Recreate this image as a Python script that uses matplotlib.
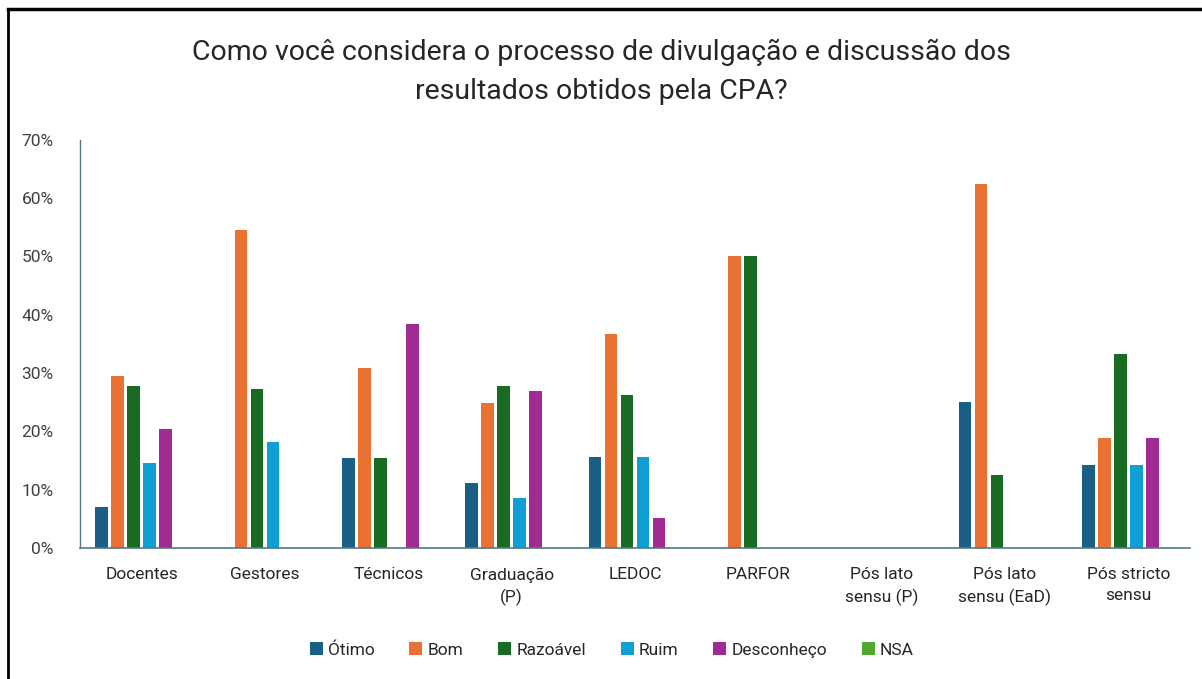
import numpy as np
import matplotlib
matplotlib.use('Agg')
import matplotlib.pyplot as plt
from matplotlib import font_manager
from matplotlib.lines import Line2D
from matplotlib.ticker import FuncFormatter

categories = ['Docentes', 'Gestores', 'Técnicos', 'Graduação\n(P)', 'LEDOC', 'PARFOR',
              'Pós lato\nsensu (P)', 'Pós lato\nsensu (EaD)', 'Pós stricto\nsensu']
series = ['Ótimo', 'Bom', 'Razoável', 'Ruim', 'Desconheço', 'NSA']

otimo = [0.071, 0.0, 0.154, 0.111, 0.156, 0.0, 0.0, 0.25, 0.143]
bom = [0.295, 0.545, 0.308, 0.248, 0.367, 0.50, 0.0, 0.625, 0.188]
razoavel = [0.278, 0.272, 0.154, 0.278, 0.262, 0.50, 0.0, 0.125, 0.333]
ruim = [0.146, 0.181, 0.0, 0.086, 0.156, 0.0, 0.0, 0.0, 0.143]
desconheco = [0.204, 0.0, 0.384, 0.270, 0.052, 0.0, 0.0, 0.0, 0.188]
nsa = [0.0, 0.0, 0.0, 0.0, 0.0, 0.0, 0.0, 0.0, 0.0]

colors = ['#1a5f85', '#e97132', '#196b24', '#0f9ed5', '#a02b93', '#4ea72e']


def pick_font(names):
    for n in names:
        try:
            font_manager.findfont(n, fallback_to_default=False)
            return n
        except Exception:
            pass
    return 'DejaVu Sans'


body_font = pick_font(['Roboto', 'Liberation Sans'])
plt.rcParams['font.family'] = [body_font, 'DejaVu Sans']

fig = plt.figure(figsize=(12.02, 6.79), dpi=100)
ax = fig.add_axes([0.0666, 0.193, 0.9234, 0.601])

values = [otimo, bom, razoavel, ruim, desconheco, nsa]
x = np.arange(len(categories))
step = 0.13
width = 0.103
for j, (name, vals) in enumerate(zip(series, values)):
    ax.bar(x + (j - 2.5) * step, vals, width, color=colors[j], label=name)

ax.set_xlim(-0.5, len(categories) - 0.5)
ax.set_ylim(0, 0.7)
ax.set_yticks(np.arange(0, 0.71, 0.1))
ax.yaxis.set_major_formatter(FuncFormatter(lambda v, p: f'{v*100:.0f}%'))
ax.set_xticks(x)
ax.set_xticklabels(categories, fontsize=12.5, color='#262626', linespacing=1.45)
ax.tick_params(axis='y', length=0, pad=19, labelsize=12.5, labelcolor='#404040')
ax.tick_params(axis='x', length=0, pad=14)

for s in ['top', 'right']:
    ax.spines[s].set_visible(False)
ax.spines['left'].set_color('#4f7a86')
ax.spines['bottom'].set_color('#4f7a86')
ax.spines['left'].set_linewidth(1.0)
ax.spines['bottom'].set_linewidth(1.2)

fig.text(0.5, 1 - 72 / 679, 'Como você considera o processo de divulgação e discussão dos\nresultados obtidos pela CPA?',
         ha='center', va='center', fontsize=20.5, color='#262626', linespacing=1.55)

fig.legend(*ax.get_legend_handles_labels(), loc='center', bbox_to_anchor=(0.509, 1 - 650 / 679),
           ncol=6, frameon=False, fontsize=12.5, handlelength=0.75, handleheight=0.75,
           handletextpad=0.3, columnspacing=2.0, labelcolor='#262626')

# moldura (esquerda e topo)
fig.add_artist(Line2D([8 / 1202, 8 / 1202], [0, 1 - 9 / 679], color='black', lw=2))
fig.add_artist(Line2D([8 / 1202, 1], [1 - 9 / 679, 1 - 9 / 679], color='black', lw=2.5))

plt.savefig('out.png', dpi=100)
